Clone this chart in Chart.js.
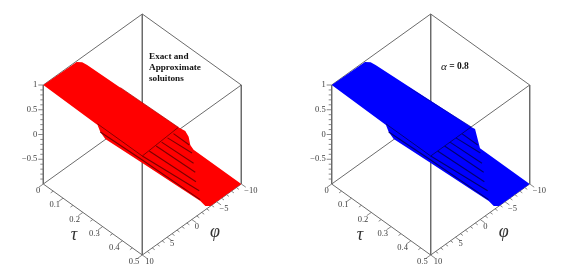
<!DOCTYPE html>
<html>
<head>
<meta charset="utf-8">
<script src="https://cdn.jsdelivr.net/npm/chart.js@4/dist/chart.umd.min.js"></script>
<style>
    html, body { margin: 0; padding: 0; background: #fff; }
    #page { position: relative; width: 582px; height: 272px; overflow: hidden; }
    canvas { position: absolute; top: 0; filter: blur(0.45px); }
    #left-plot { left: 0; }
    #right-plot { left: 291px; }
</style>
</head>
<body>
<div id="page">
    <canvas id="left-plot" width="291" height="272"></canvas>
    <canvas id="right-plot" width="291" height="272"></canvas>
</div>
<script>
// tick labels on the three axes
const tauLabels = [0, 0.1, 0.2, 0.3, 0.4, 0.5];
const phiLabels = [-10, -5, 0, 5, 10];
const uLabels = [1, 0.5, 0, -0.5];

// minor tick positions
const tauMinor = [0.05, 0.15, 0.25, 0.35, 0.45];
const phiMinor = [-9, -8, -7, -6, -4, -3, -2, -1, 1, 2, 3, 4, 6, 7, 8, 9];
const uMinor = [-0.9, -0.8, -0.7, -0.6, -0.4, -0.3, -0.2, -0.1, 0.1, 0.2, 0.3, 0.4, 0.6, 0.7, 0.8, 0.9];

// outline of the exact solution surface (tau, phi, u)
const redTau = [0, 0.003, 0.018, 0.04, 0.49, 0.5, 0.5, 0.5, 0.259, 0.5, 0.5, 0.487, 0.5, 0.5, 0.313, 0.288, 0.274];
const redPhi = [10, 3.4, 2.86, 2.74, 2.32, 1.32, 0.64, 0.3, -10, -10, -3.8, -3.26, -1.72, 10, 10, 10, 10];
const redU = [1, 1, 1, 1, 1, 0.883, 0.719, 0.527, -1, -1, -1, -1, -0.75, 0.859, 0.808, 0.877, 0.977];

// outline of the approximate solution surface
const blueTau = [0, 0.003, 0.018, 0.04, 0.5, 0.5, 0.5, 0.249, 0.5, 0.5, 0.487, 0.5, 0.5, 0.313, 0.288, 0.274];
const bluePhi = [10, 3.4, 2.86, 2.74, 1.82, 1.04, 0.04, -10, -10, -3.8, -3.26, -1.72, 10, 10, 10, 10];
const blueU = [1, 1, 1, 1, 1, 0.903, 0.44, -1, -1, -1, -1, -0.75, 0.859, 0.808, 0.877, 0.977];

// mesh lines across the step, all at tau = 0.5
const meshStartPhi = [10, 8.6, 7.2, 6.1, 4.9, 3.7];
const meshEndPhi = [-1.5, -0.84, -0.7, -0.36, -0.04, 0.5];
const meshEndU = [-0.527, -0.297, -0.097, 0.109, 0.341, 0.541];

// lowest mesh line, it bends at the corner of the box
const lowTau = [0.288, 0.5, 0.5];
const lowPhi = [10, 10, -1.7];
const lowU = [0.877, 0.919, -0.72];

// size of the box on screen
const boxTop = 85;
const boxBottom = 184;
const halfWidth = 99;
const slope = 71;

function project(originX, tau, phi, u) {
    const t = tau / 0.5;
    const q = (10 - phi) / 20;
    return {
        x: originX + halfWidth * t + halfWidth * q,
        y: boxBottom + slope * t - slope * q - (boxBottom - boxTop) / 2 * (u + 1)
    };
}

function lineDataset(points, color, width) {
    return {
        data: points,
        showLine: true,
        borderColor: color,
        borderWidth: width,
        pointRadius: 0
    };
}

// fills a dataset's own points as a closed shape
const surfacePlugin = {
    id: 'surfaceFill',
    beforeDatasetDraw(chart, args) {
        const dataset = chart.data.datasets[args.index];
        if (!dataset.surfaceColor) return;
        const points = chart.getDatasetMeta(args.index).data;
        const ctx = chart.ctx;
        ctx.save();
        ctx.fillStyle = dataset.surfaceColor;
        ctx.beginPath();
        points.forEach((p, i) => {
            if (i === 0) ctx.moveTo(p.x, p.y);
            else ctx.lineTo(p.x, p.y);
        });
        ctx.closePath();
        ctx.fill();
        ctx.restore();
    }
};

// tick labels, axis names and the note in the box
const textPlugin = {
    id: 'plotText',
    afterDatasetsDraw(chart) {
        const cfg = chart.options.plugins.plotText;
        const ctx = chart.ctx;
        const sx = chart.scales.x;
        const sy = chart.scales.y;
        const put = (text, p, dx, dy, align) => {
            ctx.textAlign = align;
            ctx.fillText(text, sx.getPixelForValue(p.x) + dx, sy.getPixelForValue(p.y) + dy);
        };

        ctx.save();
        ctx.fillStyle = '#3c3c3c';
        ctx.textBaseline = 'middle';
        ctx.font = '8.5px "Liberation Serif"';
        tauLabels.forEach(v => put(String(v), project(cfg.originX, v, 10, -1), -3, 7, 'right'));
        phiLabels.forEach(v => put(String(v).replace('-', '\u2212'), project(cfg.originX, 0.5, v, -1), 3, 7, 'left'));
        uLabels.forEach(v => put(String(v).replace('-', '\u2212'), project(cfg.originX, 0, 10, v), -6, 0, 'right'));

        ctx.fillStyle = '#333';
        ctx.font = 'italic 18px "Liberation Serif"';
        ctx.textAlign = 'center';
        ctx.fillText('\u03c4', cfg.tauTitleX, 235);
        ctx.fillText('\u03c6', cfg.phiTitleX, 232);

        ctx.fillStyle = '#111';
        ctx.textAlign = 'left';
        cfg.note.forEach((line, i) => {
            ctx.font = 'bold 9.2px "Liberation Serif"';
            ctx.fillText(line, 149, cfg.noteY + i * 10.8);
        });
        if (cfg.greek) {
            ctx.font = 'italic 11px "Liberation Serif"';
            ctx.fillText(cfg.greek, 150, cfg.noteY);
            const w = ctx.measureText(cfg.greek).width;
            ctx.font = 'bold 9.5px "Liberation Serif"';
            ctx.fillText(cfg.greekText, 150 + w, cfg.noteY);
        }
        ctx.restore();
    }
};

function drawPlot(canvasId, panel) {
    const x0 = panel.originX;
    const at = (tau, phi, u) => project(x0, tau, phi, u);
    const edgeColor = '#6b6b6b';
    const datasets = [];

    // ticks
    tauLabels.forEach(v => {
        const p = at(v, 10, -1);
        datasets.push(lineDataset([p, { x: p.x - 4.5, y: p.y + 3.2 }], edgeColor, 0.8));
    });
    tauMinor.forEach(v => {
        const p = at(v, 10, -1);
        datasets.push(lineDataset([p, { x: p.x - 2.5, y: p.y + 1.8 }], edgeColor, 0.8));
    });
    phiLabels.forEach(v => {
        const p = at(0.5, v, -1);
        datasets.push(lineDataset([p, { x: p.x + 4.5, y: p.y + 3.2 }], edgeColor, 0.8));
    });
    phiMinor.forEach(v => {
        const p = at(0.5, v, -1);
        datasets.push(lineDataset([p, { x: p.x + 2.5, y: p.y + 1.8 }], edgeColor, 0.8));
    });
    uLabels.forEach(v => {
        const p = at(0, 10, v);
        datasets.push(lineDataset([p, { x: p.x - 5, y: p.y }], edgeColor, 0.8));
    });
    uMinor.forEach(v => {
        const p = at(0, 10, v);
        datasets.push(lineDataset([p, { x: p.x - 3, y: p.y }], edgeColor, 0.8));
    });

    // mesh lines go on top of the surface
    meshStartPhi.forEach((phi, i) => {
        datasets.push(lineDataset([at(0.5, phi, 1), at(0.5, meshEndPhi[i], meshEndU[i])], panel.dark, 1.1));
    });
    datasets.push(lineDataset(lowTau.map((t, i) => at(t, lowPhi[i], lowU[i])), panel.dark, 1.1));
    datasets.push(lineDataset([at(0.274, 10, 1), at(0.5, 10, 1)], panel.dark, 0.9));
    datasets.push(lineDataset([at(0.5, 10, 1), at(panel.rimTau, panel.rimPhi, 1)], panel.dark, 0.9));
    datasets.push(lineDataset([at(0.204, 2.58, 1), at(panel.rimTau, panel.rimPhi, 1)], panel.rim, 0.7));

    // surface
    const outline = panel.tau.map((t, i) => at(t, panel.phi[i], panel.u[i]));
    const surface = lineDataset(outline, 'transparent', 0);
    surface.surfaceColor = panel.color;
    datasets.push(surface);

    // box edges stay behind the surface
    const box = [
        [at(0, -10, 1), at(0, 10, 1)],
        [at(0, -10, 1), at(0.5, -10, 1)],
        [at(0, 10, 1), at(0, 10, -1)],
        [at(0.5, -10, 1), at(0.5, -10, -1)],
        [at(0, -10, 1), at(0, -10, -1)],
        [at(0.5, 10, 1), at(0.5, 10, -1)],
        [at(0, 10, -1), at(0.5, 10, -1)],
        [at(0.5, 10, -1), at(0.5, -10, -1)],
        [at(0, 10, -1), at(0, -10, -1)],
        [at(0.5, -10, 1), at(0.5, 10, 1)]
    ];
    box.forEach(edge => datasets.push(lineDataset(edge, edgeColor, 1)));

    new Chart(document.getElementById(canvasId), {
        type: 'scatter',
        data: { datasets: datasets },
        plugins: [surfacePlugin, textPlugin],
        options: {
            responsive: false,
            animation: false,
            layout: { padding: 0 },
            scales: {
                x: { type: 'linear', min: 0, max: 291, display: false },
                y: { type: 'linear', min: 0, max: 272, reverse: true, display: false }
            },
            plugins: {
                legend: { display: false },
                tooltip: { enabled: false },
                plotText: {
                    originX: x0,
                    tauTitleX: panel.tauTitleX,
                    phiTitleX: panel.phiTitleX,
                    note: panel.note,
                    noteY: panel.noteY,
                    greek: panel.greek,
                    greekText: panel.greekText
                }
            }
        }
    });
}

drawPlot('left-plot', {
    originX: 43.3,
    color: '#ff0000',
    dark: '#7a0000',
    rim: '#b00000',
    tau: redTau,
    phi: redPhi,
    u: redU,
    rimTau: 0.49,
    rimPhi: 2.32,
    tauTitleX: 74,
    phiTitleX: 215,
    note: ['Exact and', 'Approximate', 'soluitons'],
    noteY: 57
});

drawPlot('right-plot', {
    originX: 40.7,
    color: '#0000ff',
    dark: '#000070',
    rim: '#0000b0',
    tau: blueTau,
    phi: bluePhi,
    u: blueU,
    rimTau: 0.5,
    rimPhi: 1.82,
    tauTitleX: 69,
    phiTitleX: 212.7,
    note: [],
    noteY: 66.7,
    greek: '\u03b1',
    greekText: ' = 0.8'
});
</script>
</body>
</html>
